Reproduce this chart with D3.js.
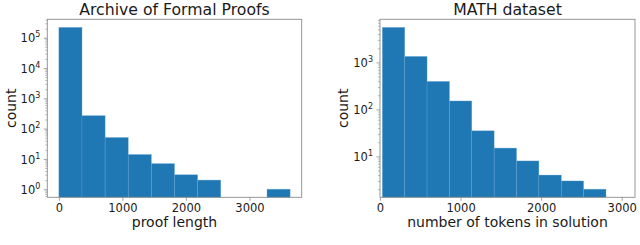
<!DOCTYPE html>
<html>
<head>
<meta charset="utf-8">
<script src="https://cdn.jsdelivr.net/npm/d3@7"></script>
<style>
  html, body { margin: 0; padding: 0; background: #fff; }
  svg { display: block; }
  text { font-family: "DejaVu Sans", sans-serif; fill: #1a1a1a; }
</style>
</head>
<body>
<svg id="chart" width="640" height="245"></svg>
<script>
// ---- data ----
const afpTitle = "Archive of Formal Proofs";
const afpXLabel = "proof length";
const afpBinEdges = [0, 364, 728, 1092, 1456, 1820, 2184, 2548, 2912, 3276, 3640];
const afpCounts = [220000, 268, 51, 14, 7, 3, 2, 0, 0, 1];

const mathTitle = "MATH dataset";
const mathXLabel = "number of tokens in solution";
const mathBinEdges = [29, 307, 584, 862, 1139, 1417, 1695, 1972, 2250, 2527, 2805];
const mathCounts = [5560, 1340, 394, 151, 35, 15, 8, 4, 3, 2];

const xTicks = [0, 1000, 2000, 3000];
const afpYTicks = [1, 10, 100, 1000, 10000, 100000];
const mathYTicks = [10, 100, 1000];
const yLabel = "count";

// ---- drawing ----
const svg = d3.select("#chart");
const barColor = "#1f77b4";
const spineColor = "#8c8c8c";

function drawPanel(cfg) {
  const g = svg.append("g");
  const x = d3.scaleLinear().domain(cfg.xDomain).range([cfg.left, cfg.right]);
  const counts = cfg.counts.filter(c => c > 0);
  const lmin = Math.log10(d3.min(counts)), lmax = Math.log10(d3.max(counts));
  const m = (lmax - lmin) * 0.05;
  const y = d3.scaleLog().domain([Math.pow(10, lmin - m), Math.pow(10, lmax + m)])
    .range([cfg.bottom, cfg.top]);

  const bins = cfg.counts.map((c, i) => ({x0: cfg.edges[i], x1: cfg.edges[i + 1], c}))
    .filter(d => d.c > 0);

  g.selectAll("rect.bar").data(bins).enter().append("rect")
    .attr("class", "bar")
    .attr("x", d => x(d.x0))
    .attr("width", d => x(d.x1) - x(d.x0))
    .attr("y", d => y(d.c))
    .attr("height", d => cfg.bottom - y(d.c))
    .attr("fill", barColor)
    .attr("stroke", "#6aa8d8")
    .attr("stroke-opacity", 0.55)
    .attr("stroke-width", 0.6);

  // x axis
  const xAxis = d3.axisBottom(x).tickValues(xTicks).tickSize(3.5).tickPadding(3.5)
    .tickFormat(d3.format("d"));
  const xg = g.append("g").attr("transform", `translate(0,${cfg.bottom})`).call(xAxis);
  xg.select(".domain").remove();
  xg.selectAll(".tick line").attr("stroke", spineColor).attr("stroke-width", 0.8);
  xg.selectAll(".tick text").attr("font-size", "11.5px")
    .attr("font-family", "DejaVu Sans, sans-serif").attr("fill", "#1a1a1a");

  // y axis: minor ticks
  const [d0, d1] = y.domain();
  const minor = [];
  for (let e = Math.floor(Math.log10(d0)); e <= Math.ceil(Math.log10(d1)); e++) {
    for (let k = 2; k <= 9; k++) {
      const v = k * Math.pow(10, e);
      if (v >= d0 && v <= d1) minor.push(v);
    }
  }
  const yMinor = d3.axisLeft(y).tickValues(minor).tickSize(2).tickFormat(() => "");
  const ymg = g.append("g").attr("transform", `translate(${cfg.left},0)`).call(yMinor);
  ymg.select(".domain").remove();
  ymg.selectAll(".tick line").attr("stroke", spineColor).attr("stroke-width", 0.6);

  const yAxis = d3.axisLeft(y).tickValues(cfg.yTicks).tickSize(3.5).tickFormat(() => "");
  const yg = g.append("g").attr("transform", `translate(${cfg.left},0)`).call(yAxis);
  yg.select(".domain").remove();
  yg.selectAll(".tick line").attr("stroke", spineColor).attr("stroke-width", 0.8);
  yg.selectAll(".tick").each(function(d) {
    const t = d3.select(this).append("text")
      .attr("x", -7).attr("y", 4.2)
      .attr("text-anchor", "end")
      .attr("font-size", "11.5px");
    t.append("tspan").text("10");
    t.append("tspan").attr("font-size", "8px").attr("dy", -5)
      .text(String(Math.round(Math.log10(d))));
  });

  // frame
  g.append("rect")
    .attr("x", cfg.left).attr("y", cfg.top)
    .attr("width", cfg.right - cfg.left).attr("height", cfg.bottom - cfg.top)
    .attr("fill", "none").attr("stroke", spineColor).attr("stroke-width", 0.9);

  // title
  g.append("text").attr("x", (cfg.left + cfg.right) / 2).attr("y", 15)
    .attr("text-anchor", "middle").attr("font-size", "15.7px").text(cfg.title);
  // x label
  g.append("text").attr("x", (cfg.left + cfg.right) / 2).attr("y", 227)
    .attr("text-anchor", "middle").attr("font-size", "14px").text(cfg.xLabel);
  // y label
  g.append("text")
    .attr("transform", `translate(${cfg.yLabelX},${(cfg.top + cfg.bottom) / 2}) rotate(-90)`)
    .attr("text-anchor", "middle").attr("font-size", "14px").text(yLabel);
}

drawPanel({
  left: 47.3, right: 301.7, top: 19.3, bottom: 197.3,
  xDomain: [-182, 3822],
  edges: afpBinEdges, counts: afpCounts, yTicks: afpYTicks,
  title: afpTitle, xLabel: afpXLabel, yLabelX: 16
});

drawPanel({
  left: 380, right: 635, top: 19.3, bottom: 197.3,
  xDomain: [0, 3165],
  edges: mathBinEdges, counts: mathCounts, yTicks: mathYTicks,
  title: mathTitle, xLabel: mathXLabel, yLabelX: 348
});
</script>
</body>
</html>
